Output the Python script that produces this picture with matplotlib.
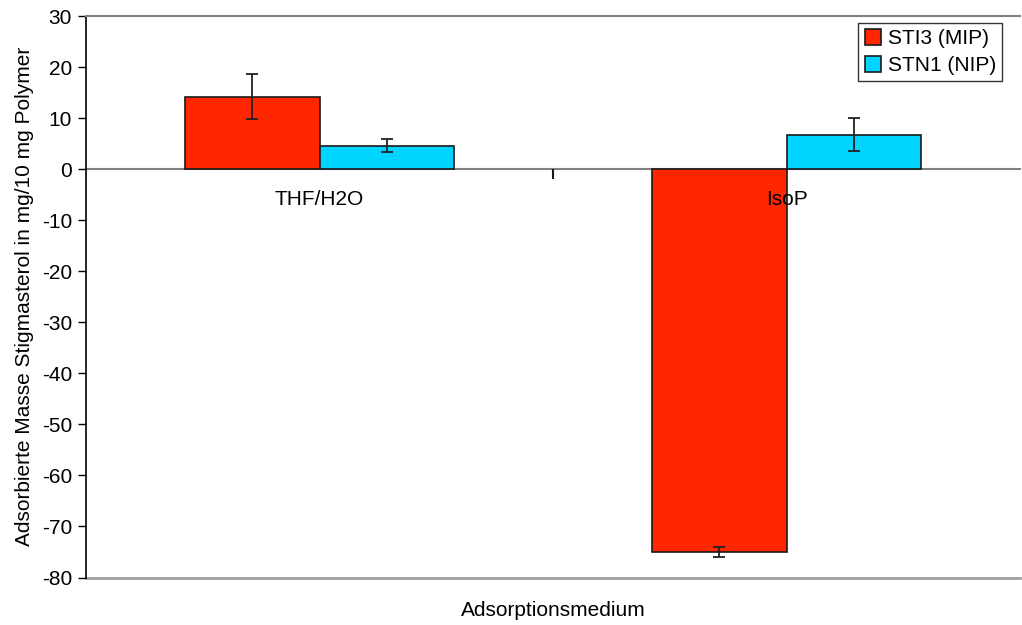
import numpy as np
import matplotlib
matplotlib.use("Agg")
import matplotlib.pyplot as plt

plt.rcParams['font.family'] = ['Liberation Sans', 'DejaVu Sans']
plt.rcParams['axes.unicode_minus'] = False

categories = ["THF/H2O", "IsoP"]
series = ["STI3 (MIP)", "STN1 (NIP)"]
mip = [14.2, -75.0]
mip_err = [4.4, 0.9]
nip = [4.6, 6.75]
nip_err = [1.25, 3.25]
yticks = list(range(-80, 31, 10))

fig = plt.figure(figsize=(10.22, 6.25), dpi=100)
ax = fig.add_axes([86 / 1022, 1 - 577.5 / 625, 934 / 1022, 561.5 / 625])

x = np.arange(len(categories))
w = 0.287
ekw = dict(elinewidth=1.3, capsize=4, capthick=1.3, ecolor='#222222')
ax.bar(x - w / 2, mip, w, yerr=mip_err, color='#FF2600', edgecolor='#1a1a1a',
       linewidth=1.2, label=series[0], error_kw=ekw, zorder=2)
ax.bar(x + w / 2, nip, w, yerr=nip_err, color='#00D4FF', edgecolor='#1a1a1a',
       linewidth=1.2, label=series[1], error_kw=ekw, zorder=2)

ax.set_xlim(-0.5, 1.5)
ax.set_ylim(-80, 30)
ax.set_yticks(yticks)
ax.tick_params(axis='y', labelsize=15, length=6, width=1, direction='out', pad=4)

# category axis sits at zero
ax.spines['bottom'].set_position(('data', 0))
ax.spines['bottom'].set_color('#808080')
ax.spines['bottom'].set_linewidth(1.5)
ax.spines['bottom'].set_zorder(1)
ax.spines['top'].set_color('#808080')
ax.spines['top'].set_linewidth(1.5)
ax.spines['right'].set_visible(False)
ax.spines['left'].set_linewidth(1.2)
ax.axhline(-80, color='#a0a0a0', linewidth=2, clip_on=False, zorder=1)
ax.set_xticks([0.5])
ax.set_xticklabels([''])
ax.tick_params(axis='x', length=7, width=1.5, color='#1a1a1a', direction='out')

for i, c in enumerate(categories):
    ax.annotate(c, xy=(i, 0), xytext=(0, -22), textcoords='offset points',
                ha='center', va='center', fontsize=15, zorder=3)

ax.set_ylabel("Adsorbierte Masse Stigmasterol in mg/10 mg Polymer", fontsize=15, labelpad=6)
fig.text(553 / 1022, 1 - 610 / 625, "Adsorptionsmedium", ha='center', va='center', fontsize=15)

leg = ax.legend(loc='upper right', bbox_to_anchor=((1002 - 86) / 934, (577.5 - 23) / 561.5),
                borderaxespad=0, fontsize=15, frameon=True, fancybox=False, edgecolor='black',
                handlelength=0.8, handleheight=0.8, handletextpad=0.3, borderpad=0.3,
                labelspacing=0.35)
leg.get_frame().set_linewidth(1)

fig.savefig("out.png", dpi=100)
